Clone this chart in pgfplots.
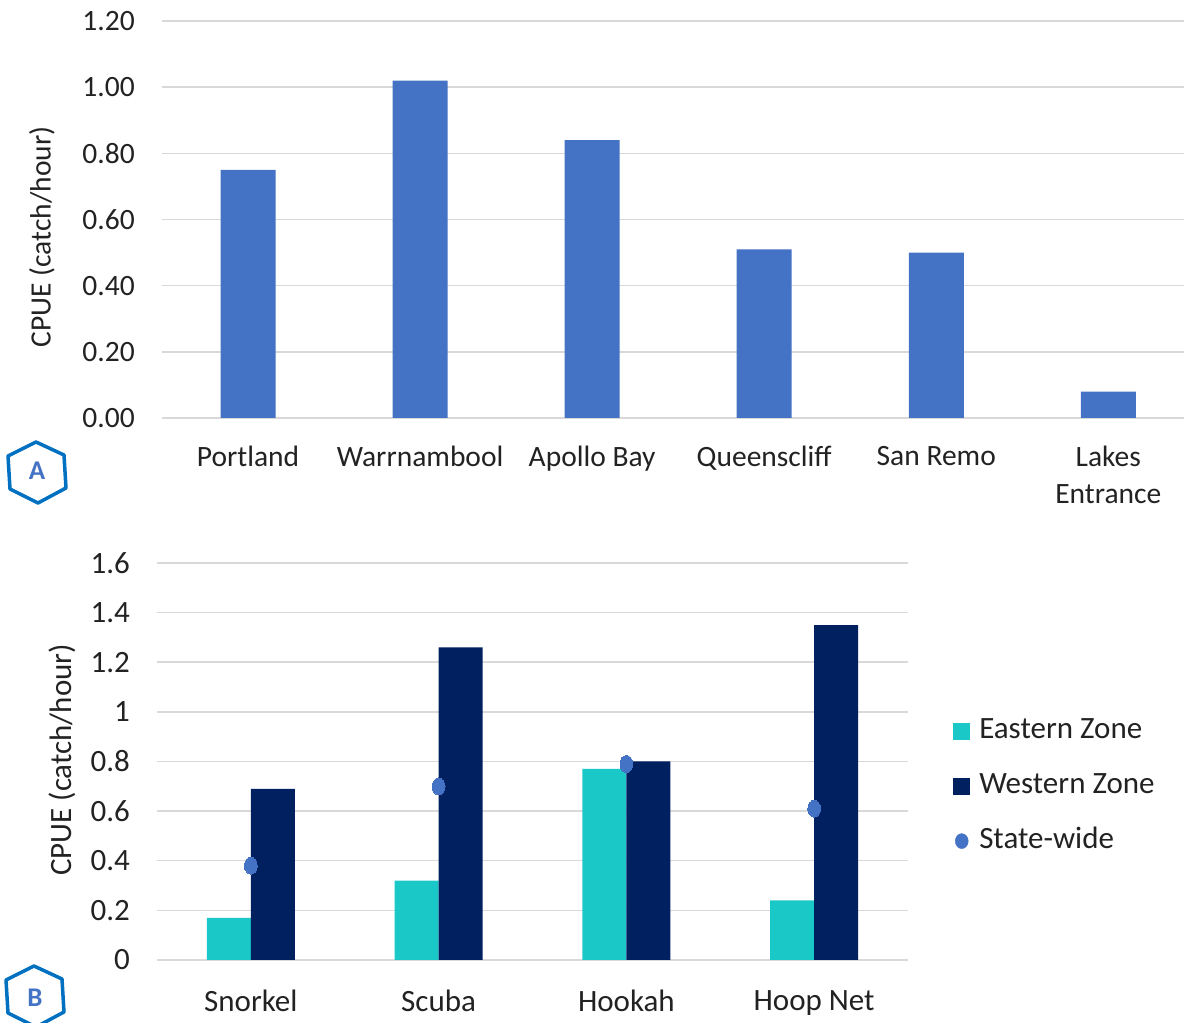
\documentclass[border=0pt]{standalone}
\usepackage{pgfplots}
\pgfplotsset{compat=1.18}
\usepackage{fontspec}
\setmainfont{Carlito}
\definecolor{barA}{HTML}{4472C4}
\definecolor{east}{HTML}{1BC8C8}
\definecolor{west}{HTML}{002060}
\definecolor{gridc}{HTML}{D9D9D9}
\definecolor{txt}{HTML}{222222}
\definecolor{hex}{HTML}{0070C0}
\newcommand{\fA}{\fontsize{29.5}{37}\selectfont}
\newcommand{\fB}{\fontsize{31}{37}\selectfont}
\pgfplotsset{
  mystyle/.style={
    scale only axis, height=397pt, ymin=0,
    axis line style={draw=none},
    major tick length=0pt,
    ymajorgrids, grid style={gridc, line width=1.5pt},
    /pgf/number format/assume math mode=true,
    yticklabel style={inner sep=0pt, xshift=-27pt, anchor=east},
    xticklabel style={inner sep=0pt, anchor=north, align=center},
  }
}
\begin{document}
\begin{tikzpicture}
\useasboundingbox (0pt,0pt) rectangle (1184pt,1023pt);
% Panel A
\begin{axis}[mystyle, at={(162pt,605pt)}, anchor=south west, width=1022pt,
  tick label style={font=\fA, text=txt},
  xticklabel style={yshift=-28pt},
  ymax=1.2, ytick={0,0.2,0.4,0.6,0.8,1.0,1.2},
  yticklabel style={/pgf/number format/.cd, fixed, fixed zerofill, precision=2},
  xmin=-0.5, xmax=5.44, xtick={0,1,2,3,4,5},
  xticklabels={Portland, Warrnambool, Apollo Bay, Queenscliff, San Remo, {Lakes\\Entrance}},
  ylabel={CPUE (catch/hour)},
  every axis y label/.style={at={(rel axis cs:0,0.456)}, xshift=-120pt, rotate=90, anchor=center, font=\fA, text=txt},
]
\addplot[ybar, bar width=55pt, bar shift=0pt, fill=barA, draw=none]
  coordinates {(0,0.75) (1,1.02) (2,0.84) (3,0.51) (4,0.50) (5,0.08)};
\end{axis}
% Panel B
\begin{axis}[mystyle, at={(157pt,63pt)}, anchor=south west, width=751pt,
  tick label style={font=\fB, text=txt},
  xticklabel style={yshift=-30pt},
  ymax=1.6, ytick={0,0.2,0.4,0.6,0.8,1,1.2,1.4,1.6},
  yticklabel style={/pgf/number format/.cd, fixed, precision=1},
  xmin=-0.5, xmax=3.5, xtick={0,1,2,3},
  xticklabels={Snorkel, Scuba, Hookah, Hoop Net},
  ylabel={CPUE (catch/hour)},
  every axis y label/.style={at={(rel axis cs:0,0.504)}, xshift=-95pt, rotate=90, anchor=center, font=\fB, text=txt},
  legend style={draw=none, fill=none, at={(rel axis cs:1.056,0.438)}, anchor=west,
    font=\fB, text=txt, row sep=29pt,
    nodes={inner sep=0pt, text height=20pt, text depth=6pt},
    /tikz/every odd column/.append style={column sep=9pt}},
  legend cell align=left,
]
\addplot[ybar, bar width=44pt, bar shift=-22pt, fill=east, draw=none,
  legend image code/.code={\fill[east] (0pt,-8.5pt) rectangle (17pt,8.5pt);}]
  coordinates {(0,0.17) (1,0.32) (2,0.77) (3,0.24)};
\addplot[ybar, bar width=44pt, bar shift=22pt, fill=west, draw=none,
  legend image code/.code={\fill[west] (0pt,-8.5pt) rectangle (17pt,8.5pt);}]
  coordinates {(0,0.69) (1,1.26) (2,0.80) (3,1.35)};
\addplot[only marks, color=barA, mark=*, mark size=8.5pt,
  mark options={solid, fill=barA, draw=barA, line width=0pt, xscale=0.75},
  legend image code/.code={\fill[barA] (8.5pt,0pt) ellipse (6.5pt and 7.5pt);}]
  coordinates {(0,0.38) (1,0.70) (2,0.79) (3,0.61)};
\legend{Eastern Zone, Western Zone, State-wide}
\end{axis}
% hexagon labels
\begin{scope}[x=1pt,y=1pt]
\draw[hex, line width=3.5pt, line join=round] (36,581) -- (64,568) -- (66,535) -- (38,520) -- (10,534) -- (8,567) -- cycle;
\node[font=\fontsize{27}{30}\selectfont\bfseries, text=barA] at (37,552) {A};
\draw[hex, line width=3.5pt, line join=round] (34,57) -- (62,44) -- (64,11) -- (36,-4) -- (8,10) -- (6,43) -- cycle;
\node[font=\fontsize{27}{30}\selectfont\bfseries, text=barA] at (35,25) {B};
\end{scope}
\end{tikzpicture}
\end{document}
